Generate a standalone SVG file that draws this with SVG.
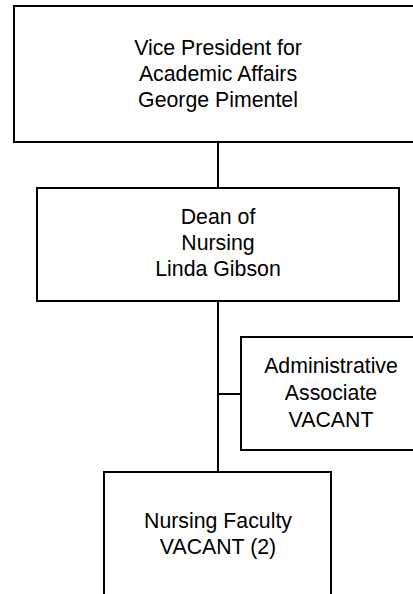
<svg xmlns="http://www.w3.org/2000/svg" width="413" height="594" viewBox="0 0 413 594">
<style>
.box{fill:#fff;stroke:#000;stroke-width:2}
.ln{stroke:#000;stroke-width:2;fill:none}
text{font-family:"Liberation Sans",Arial,sans-serif;font-size:21.3px;fill:#000;text-anchor:middle}
</style>
<rect width="413" height="594" fill="#fff"/>
<g id="connectors">
<line class="ln" x1="218" y1="142" x2="218" y2="188"/>
<line class="ln" x1="218" y1="301" x2="218" y2="472"/>
<line class="ln" x1="218" y1="394" x2="241" y2="394"/>
</g>
<g id="vp">
<rect class="box" x="14" y="6" width="408" height="136"/>
<text x="218" y="55">Vice President for</text>
<text x="218" y="81">Academic Affairs</text>
<text x="218" y="107">George Pimentel</text>
</g>
<g id="dean">
<rect class="box" x="37" y="188" width="362" height="113"/>
<text x="218" y="224">Dean of</text>
<text x="218" y="250">Nursing</text>
<text x="218" y="276">Linda Gibson</text>
</g>
<g id="admin">
<rect class="box" x="241" y="337" width="180" height="113"/>
<text x="331" y="373">Administrative</text>
<text x="331" y="400">Associate</text>
<text x="331" y="427">VACANT</text>
</g>
<g id="faculty">
<rect class="box" x="104" y="472" width="227" height="136"/>
<text x="218" y="528">Nursing Faculty</text>
<text x="218" y="554">VACANT (2)</text>
</g>
</svg>
